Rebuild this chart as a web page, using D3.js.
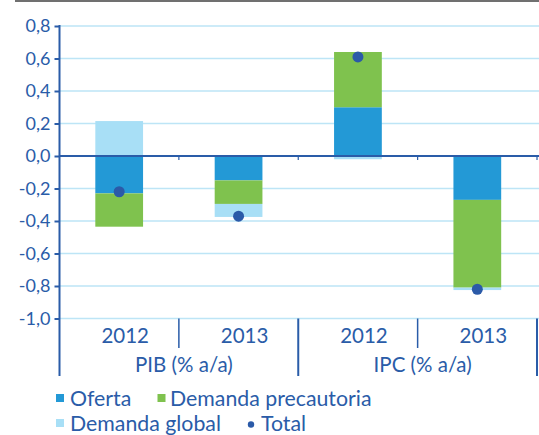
<!DOCTYPE html>
<html>
<head>
<meta charset="utf-8">
<script src="https://cdn.jsdelivr.net/npm/d3@7"></script>
<style>
  body { margin: 0; background: #fff; }
  text { font-family: Lato, "Open Sans", sans-serif; fill: #2a5ca8; }
</style>
</head>
<body>
<svg id="chart"></svg>
<script>
// data
const groups = ["PIB (% a/a)", "IPC (% a/a)"];
const years = ["2012", "2013"];
const categories = ["PIB 2012", "PIB 2013", "IPC 2012", "IPC 2013"];
const oferta = [-0.23, -0.15, 0.30, -0.27];
const precautoria = [-0.205, -0.145, 0.34, -0.54];
const global = [0.215, -0.08, -0.02, -0.015];
const total = [-0.22, -0.37, 0.61, -0.82];
const yTicks = [0.8, 0.6, 0.4, 0.2, 0, -0.2, -0.4, -0.6, -0.8, -1.0];

const WIDTH = 539, HEIGHT = 435;
const TEXT = "#2a5ca8";
const colors = { oferta: "#2399d6", precautoria: "#7fc24e", global: "#a8dff6" };
const series = ["oferta", "precautoria", "global"];

const SVG = d3.select("#chart").attr("width", WIDTH).attr("height", HEIGHT);

const rows = categories.map((c, i) => ({
  cat: c, oferta: oferta[i], precautoria: precautoria[i], global: global[i], total: total[i]
}));

const x = d3.scaleBand().domain(categories).range([59.5, 537]).paddingInner(0.6).paddingOuter(0.3);
const y = d3.scaleLinear().domain([-1, 0.8]).range([318.5, 26]);
const fmt = v => d3.format(".1f")(v).replace(".", ",").replace("−", "-");

// top gray rule
SVG.append("line").attr("x1", 15).attr("x2", WIDTH).attr("y1", 1).attr("y2", 1)
  .attr("stroke", "#707070").attr("stroke-width", 2);

// gridlines
SVG.append("g").selectAll("line").data(yTicks.filter(d => d !== 0)).join("line")
  .attr("x1", 60).attr("x2", WIDTH)
  .attr("y1", d => y(d)).attr("y2", d => y(d))
  .attr("stroke", "#bde5f6").attr("stroke-width", 1.5);

// stacked bars
const stack = d3.stack().keys(series).offset(d3.stackOffsetDiverging)(rows);
SVG.append("g").selectAll("g").data(stack).join("g")
  .attr("fill", d => colors[d.key])
  .selectAll("rect").data(d => d).join("rect")
    .attr("x", d => x(d.data.cat))
    .attr("width", x.bandwidth())
    .attr("y", d => y(Math.max(d[0], d[1])))
    .attr("height", d => Math.abs(y(d[0]) - y(d[1])));

// zero line + small ticks at category edges
SVG.append("line").attr("x1", 59).attr("x2", WIDTH).attr("y1", y(0)).attr("y2", y(0))
  .attr("stroke", TEXT).attr("stroke-width", 2);
const step = x.step();
const edges = categories.map(c => x(c) - step * x.paddingOuter()).slice(1)
  .concat([x.range()[1]]);
SVG.append("g").selectAll("line").data(edges).join("line")
  .attr("x1", d => d).attr("x2", d => d)
  .attr("y1", y(0)).attr("y2", y(0) + 4)
  .attr("stroke", TEXT).attr("stroke-width", 1.2);

// total dots
SVG.append("g").selectAll("circle").data(rows).join("circle")
  .attr("cx", d => x(d.cat) + x.bandwidth() / 2)
  .attr("cy", d => y(d.total))
  .attr("r", 5.5)
  .attr("fill", "#2b5aa8");

// y axis
const yAxis = d3.axisLeft(y).tickValues(yTicks).tickFormat(fmt).tickSize(5).tickPadding(4);
const ya = SVG.append("g").attr("transform", "translate(59.5,0)").call(yAxis);
ya.select(".domain").remove();
ya.selectAll(".tick line").attr("stroke", TEXT).attr("stroke-width", 2);
ya.selectAll(".tick text").attr("font-size", 18).attr("fill", TEXT)
  .style("font-family", "Lato, sans-serif");
SVG.append("line").attr("x1", 59.5).attr("x2", 59.5).attr("y1", 25).attr("y2", 376)
  .attr("stroke", TEXT).attr("stroke-width", 2);

// category separators below the plot
const sepShort = [edges[0], edges[2]];
const sepLong = [edges[1], edges[3]];
SVG.append("g").selectAll("line").data(sepShort).join("line")
  .attr("x1", d => d).attr("x2", d => d).attr("y1", y(-1)).attr("y2", 348)
  .attr("stroke", TEXT).attr("stroke-width", 1.5);
SVG.append("g").selectAll("line").data(sepLong).join("line")
  .attr("x1", d => d).attr("x2", d => d).attr("y1", y(-1)).attr("y2", 376)
  .attr("stroke", TEXT).attr("stroke-width", 2);

// year labels
SVG.append("g").selectAll("text").data(categories).join("text")
  .attr("x", d => x(d) + x.bandwidth() / 2 + 6)
  .attr("y", 343)
  .attr("text-anchor", "middle")
  .attr("font-size", 20.5)
  .text((d, i) => years[i % 2]);

// group labels
SVG.append("g").selectAll("text").data(groups).join("text")
  .attr("x", (d, i) => (x(categories[i * 2]) + x(categories[i * 2 + 1]) + x.bandwidth()) / 2 + 5)
  .attr("y", 372)
  .attr("text-anchor", "middle")
  .attr("font-size", 20.5)
  .text(d => d);

// legend
const legend = [
  { label: "Oferta", key: "oferta", x: 56, y: 405.5 },
  { label: "Demanda precautoria", key: "precautoria", x: 157.5, y: 405.5 },
  { label: "Demanda global", key: "global", x: 56, y: 430.5 },
  { label: "Total", key: "total", x: 247, y: 430.5 }
];
const lg = SVG.append("g").selectAll("g").data(legend).join("g")
  .attr("transform", d => `translate(${d.x},${d.y})`);
lg.filter(d => d.key !== "total").append("rect")
  .attr("x", 0).attr("y", -11.5).attr("width", 8).attr("height", 8)
  .attr("fill", d => colors[d.key]);
lg.filter(d => d.key === "total").append("circle")
  .attr("cx", 4).attr("cy", -6).attr("r", 3.2).attr("fill", "#2b5aa8");
lg.append("text").attr("x", d => d.key === "precautoria" ? 12.5 : 14).attr("y", 0)
  .attr("font-size", 21.3).text(d => d.label);
</script>
</body>
</html>
